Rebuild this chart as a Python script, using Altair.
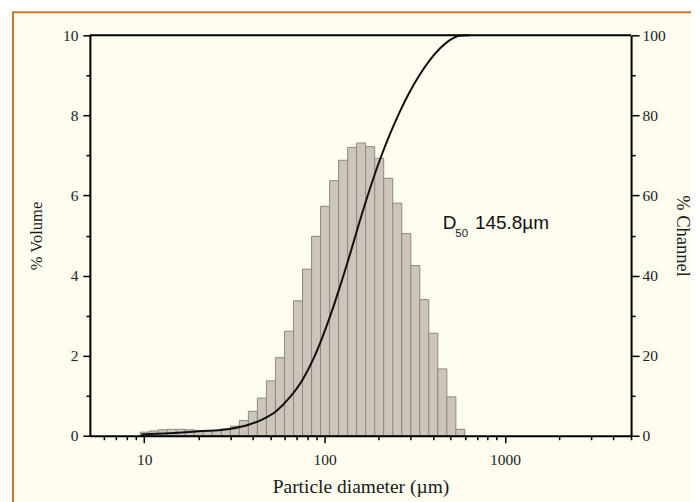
import altair as alt
import pandas as pd

# ---- data ----
bin_edges = [9.50, 10.66, 11.96, 13.42, 15.06, 16.89, 18.95, 21.27, 23.86, 26.77,
             30.04, 33.70, 37.81, 42.43, 47.61, 53.42, 59.93, 67.25, 75.45, 84.66,
             94.99, 106.6, 119.6, 134.2, 150.5, 168.9, 189.5, 212.6, 238.6, 267.7,
             300.4, 337.0, 378.1, 424.3, 476.1, 534.2, 599.3]
volume_pct = [0.09, 0.12, 0.15, 0.16, 0.16, 0.15, 0.13, 0.12, 0.13, 0.17,
              0.24, 0.38, 0.61, 0.94, 1.37, 1.95, 2.61, 3.37, 4.16, 4.98,
              5.73, 6.37, 6.88, 7.20, 7.31, 7.22, 6.93, 6.43, 5.81, 5.05,
              4.25, 3.40, 2.56, 1.67, 0.97, 0.16]
curve_d = [9.62, 13.8, 20.2, 29.7, 38.3, 45.3, 54.1, 63.9, 75.5, 90.3, 106.6,
           121.2, 137.6, 156.4, 177.8, 202.1, 229.6, 261.0, 296.6, 337.3,
           383.1, 435.5, 494.5, 562.3, 639.0]
curve_pct = [0.3, 0.6, 1.1, 1.7, 2.8, 4.1, 6.2, 9.5, 14.0, 21.0, 29.5,
             37.0, 45.0, 53.5, 61.5, 68.8, 75.2, 80.9, 85.9, 90.2,
             93.8, 96.7, 98.8, 99.9, 100.0]
x_major = [10, 100, 1000]
x_minor = [6, 7, 8, 9, 20, 30, 40, 50, 60, 70, 80, 90,
           200, 300, 400, 500, 600, 700, 800, 900, 2000, 3000, 4000, 5000]
y_left_ticks = [0, 1, 2, 3, 4, 5, 6, 7, 8, 9, 10]
y_right_ticks = [0, 10, 20, 30, 40, 50, 60, 70, 80, 90, 100]
d50_value = "145.8µm"

W, H = 542, 401
CREAM = "#fdfcef"
ORANGE = "#c87a2c"

bars_df = pd.DataFrame({"lo": bin_edges[:-1], "hi": bin_edges[1:], "v": volume_pct})
curve_df = pd.DataFrame({"d": curve_d, "p": curve_pct})
one = pd.DataFrame({"a": [0]})

xscale = alt.Scale(type="log", domain=[5, 5000], nice=False)
xaxis = alt.Axis(
    values=x_major + x_minor,
    labelExpr="(datum.value == 10 || datum.value == 100 || datum.value == 1000) ? datum.value + '' : ''",
    tickSize={"condition": {"test": "datum.value == 10 || datum.value == 100 || datum.value == 1000", "value": 7}, "value": 4},
    labelOverlap=False, labelFlush=False, labelPadding=10,
    title="Particle diameter (µm)", titlePadding=9, titleFontSize=19.5, zindex=2,
)
yaxis_left = alt.Axis(
    values=y_left_ticks,
    labelExpr="datum.value % 2 == 0 ? datum.value + '' : ''",
    tickSize={"condition": {"test": "datum.value % 2 == 0", "value": 7}, "value": 4},
    labelPadding=5, title="% Volume", titlePadding=18, titleFontSize=16.5,
    labelOverlap=False, zindex=2,
)
yaxis_right = alt.Axis(
    orient="right",
    values=y_right_ticks,
    labelExpr="datum.value % 20 == 0 ? datum.value + '' : ''",
    tickSize={"condition": {"test": "datum.value % 20 == 0", "value": 8}, "value": 4},
    labelPadding=3, title="% Channel", titlePadding=7, titleFontSize=18.5,
    labelOverlap=False, zindex=2,
)
yscale_left = alt.Scale(domain=[0, 10], nice=False)

# page background panel (cream) with the orange top and left border
panel = alt.Chart(one).mark_rect(fill=CREAM).encode(
    x=alt.value(-78), x2=alt.value(W + 60), y=alt.value(-24), y2=alt.value(H + 80)
)
border_left = alt.Chart(one).mark_rule(color=ORANGE, strokeWidth=2).encode(
    x=alt.value(-77), y=alt.value(-24), y2=alt.value(H + 80)
)
border_top = alt.Chart(one).mark_rule(color=ORANGE, strokeWidth=2).encode(
    x=alt.value(-78), x2=alt.value(W + 60), y=alt.value(-23)
)

bars = alt.Chart(bars_df).mark_rect(fill="#cdc5bb", stroke="#8f8982", strokeWidth=1).encode(
    x=alt.X("lo:Q", scale=xscale, axis=xaxis),
    x2="hi",
    y=alt.Y("v:Q", scale=yscale_left, axis=yaxis_left),
    y2=alt.datum(0),
)

txt_font = "Liberation Sans"
t_d = alt.Chart(one).mark_text(text="D", font=txt_font, fontSize=19, align="left",
                               baseline="alphabetic", color="#111").encode(
    x=alt.XDatum(452, scale=xscale, axis=xaxis), y=alt.YDatum(5.16, scale=yscale_left, axis=yaxis_left))
t_50 = alt.Chart(one).mark_text(text="50", font=txt_font, fontSize=11.5, align="left",
                                baseline="alphabetic", color="#222").encode(
    x=alt.XDatum(530, scale=xscale, axis=xaxis), y=alt.YDatum(4.96, scale=yscale_left, axis=yaxis_left))
t_val = alt.Chart(one).mark_text(text=d50_value, font=txt_font, fontSize=19, align="left",
                                 baseline="alphabetic", color="#111").encode(
    x=alt.XDatum(681, scale=xscale, axis=xaxis), y=alt.YDatum(5.16, scale=yscale_left, axis=yaxis_left))

inner = alt.layer(bars, t_d, t_50, t_val)

line = alt.Chart(curve_df).mark_line(color="#111", strokeWidth=2, interpolate="monotone").encode(
    x=alt.X("d:Q", scale=xscale, axis=xaxis),
    y=alt.Y("p:Q", scale=alt.Scale(domain=[0, 100], nice=False), axis=yaxis_right),
)

top_rule = alt.Chart(one).mark_rule(color="black", strokeWidth=2).encode(
    x=alt.value(0), x2=alt.value(W), y=alt.value(0)
)

chart = alt.layer(panel, border_left, border_top, inner, line, top_rule).resolve_scale(
    y="independent"
).properties(
    width=W, height=H, padding={"left": 3, "top": 2, "right": 0, "bottom": 0}, background="white"
).configure_view(stroke="transparent").configure_axis(
    domainColor="black", domainWidth=2, tickColor="black", tickWidth=1.5,
    labelFont="Liberation Serif", labelFontSize=15.5, labelColor="#222",
    titleFont="Liberation Serif", titleFontWeight="normal", titleColor="#1a1a1a",
    grid=False,
)

chart.save("out.html", embed_options={"renderer": "svg", "actions": False})
